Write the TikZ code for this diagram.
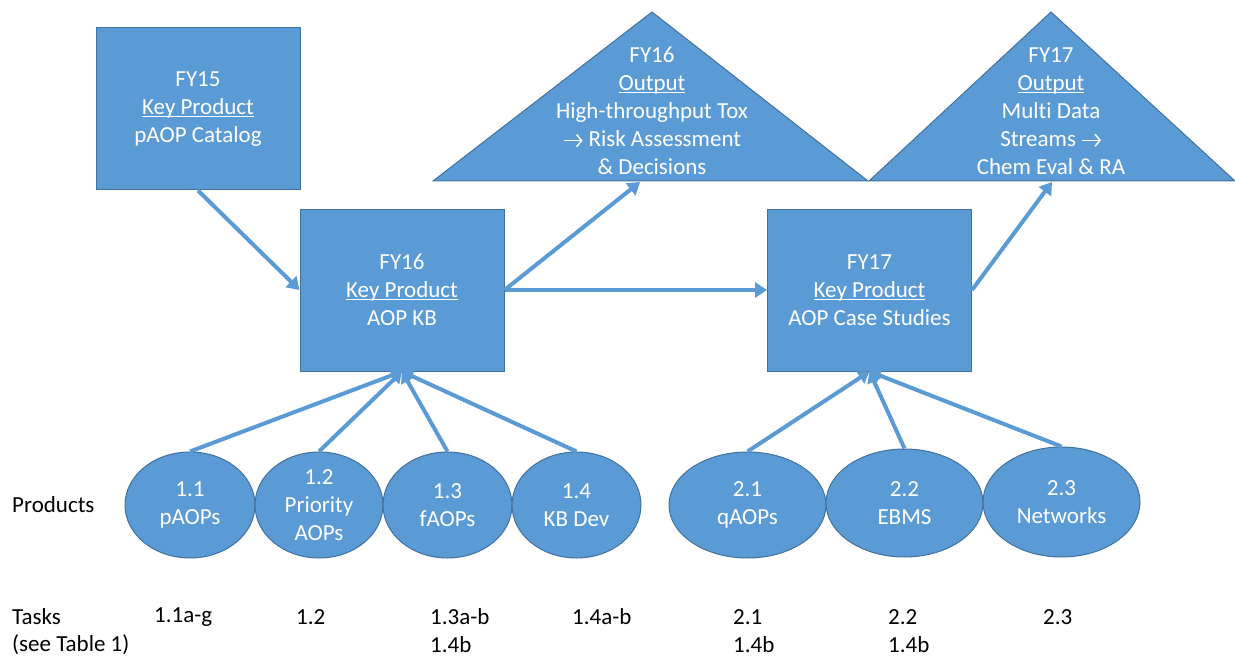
\documentclass[tikz,border=0pt]{standalone}
\usepackage{fontspec}
\setmainfont[RawFeature={-liga;-clig;-calt}]{Carlito}
\usetikzlibrary{arrows.meta,shapes.geometric}

\definecolor{boxblue}{HTML}{5B9BD5}
\definecolor{boxedge}{HTML}{41719C}

% underline sitting just under the baseline
\newcommand\ulword[1]{\setbox0\hbox{#1}\rlap{\rule[-2.6pt]{\wd0}{1.3pt}}\box0}
% thin arrow with an open chevron head, used inside text
\newcommand\rarr{\tikz[baseline=0pt,x=1pt,y=1pt]{\draw[white, line width=1.5pt,
  -{Straight Barb[length=5pt,width=12pt,line width=1.5pt]}] (0,6) -- (19,6);}}

\tikzset{
  bluefill/.style={fill=boxblue, draw=boxedge, line width=1pt},
  keybox/.style={bluefill, rectangle, minimum width=204pt, minimum height=162pt,
    inner sep=0pt, text=white, align=center, font=\fontsize{23}{28}\selectfont},
  taskoval/.style={bluefill, ellipse, inner sep=0pt, text=white, align=center,
    font=\fontsize{23}{28}\selectfont},
  outtext/.style={text=white, align=center, inner sep=0pt, font=\fontsize{23}{28}\selectfont},
  plain/.style={anchor=west, inner sep=0pt, font=\fontsize{23}{28}\selectfont},
  flow/.style={draw=boxblue, line width=4pt, -{Triangle[width=15pt,length=12pt]}},
  feed/.style={draw=boxblue, line width=4pt, -{Triangle[width=14pt,length=11pt]}}
}

\begin{document}
\begin{tikzpicture}[x=1pt,y=-1pt]
\useasboundingbox (0,0) rectangle (1235,658);

% output triangles
\path[bluefill] (433,181) -- (652,12) -- (868,181) -- cycle;
\node[outtext] (out16) at (652,111)
  {FY16\\\ulword{Output}\\High-throughput Tox\\\rarr\ Risk Assessment\\\& Decisions};
\coordinate (in16) at (640,182);

\path[bluefill] (869,181) -- (1051,12) -- (1235,181) -- cycle;
\node[outtext] (out17) at (1051,111)
  {FY17\\\ulword{Output}\\Multi Data\\Streams \rarr\\Chem Eval \& RA};
\coordinate (in17) at (1052,182);

% key products
\node[keybox] (fy15) at (198,109) {FY15\\\ulword{Key Product}\\pAOP Catalog};
\node[keybox] (kb) at (402,290) {FY16\\\ulword{Key Product}\\AOP KB};
\node[keybox] (cs) at (869.5,290) {FY17\\\ulword{Key Product}\\AOP Case Studies};

% products
\node[taskoval, minimum width=130pt, minimum height=106pt] (p11) at (190,505) {1.1\\pAOPs};
\node[taskoval, minimum width=128pt, minimum height=106pt] (p12) at (319,505) {1.2\\Priority\\AOPs};
\node[taskoval, minimum width=129pt, minimum height=106pt] (p13) at (447.5,505) {1.3\\fAOPs};
\node[taskoval, minimum width=129pt, minimum height=106pt] (p14) at (576.5,505) {1.4\\KB Dev};
\node[taskoval, minimum width=157pt, minimum height=106pt] (p21) at (747.5,505) {2.1\\qAOPs};
\node[taskoval, minimum width=157pt, minimum height=108pt] (p22) at (904.5,503) {2.2\\EBMS};
\node[taskoval, minimum width=157pt, minimum height=110pt] (p23) at (1061.5,502) {2.3\\Networks};

% connectors
\draw[flow] (fy15.south) -- (kb.west);
\draw[flow] (kb.east) -- (cs.west);
\draw[flow] (kb.east) -- (in16);
\draw[flow] (cs.east) -- (in17);
\foreach \p in {p11,p12,p13,p14} \draw[feed] (\p.north) -- (kb.south);
\foreach \p in {p21,p22,p23} \draw[feed] (\p.north) -- (cs.south);

% row labels
\node[plain] (lprod) at (12,505) {Products};
\node[plain] (ltask) at (12,617) {Tasks};
\node[plain] (lsee) at (12,645) {(see Table 1)};
\node[plain] (t11) at (154,617) {1.1a-g};
\node[plain] (t12) at (296,617) {1.2};
\node[plain] (t13) at (430,617) {1.3a-b};
\node[plain] (t13b) at (430,645) {1.4b};
\node[plain] (t14) at (572,617) {1.4a-b};
\node[plain] (t21) at (733,617) {2.1};
\node[plain] (t21b) at (733,645) {1.4b};
\node[plain] (t22) at (888,617) {2.2};
\node[plain] (t22b) at (888,645) {1.4b};
\node[plain] (t23) at (1043,617) {2.3};
\end{tikzpicture}
\end{document}
